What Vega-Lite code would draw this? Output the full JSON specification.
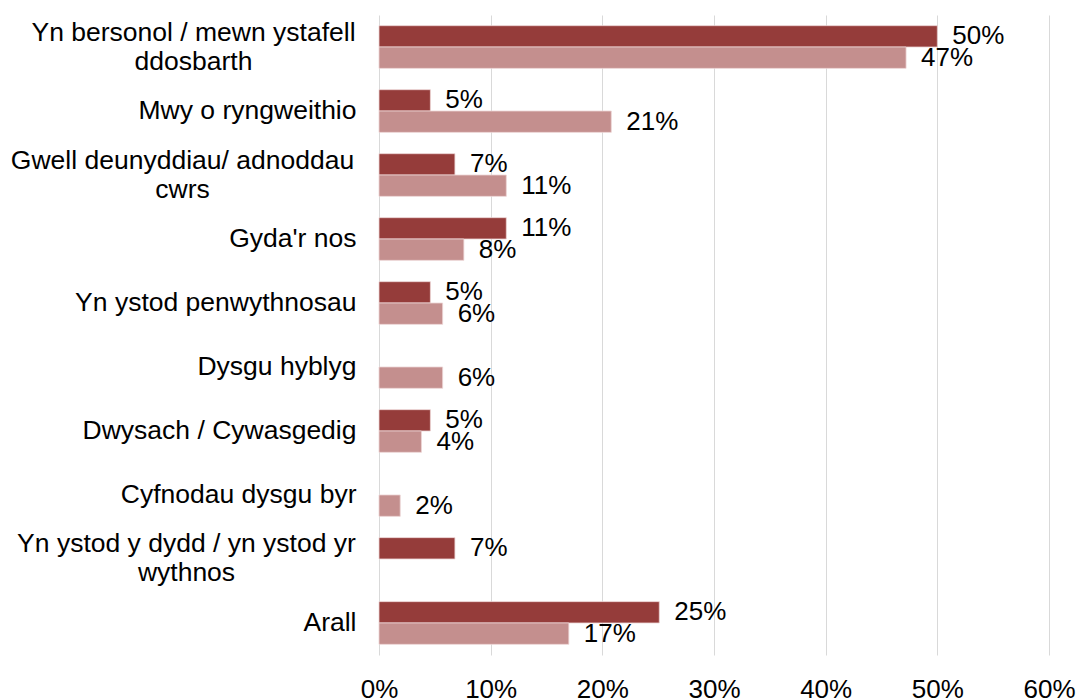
{
  "$schema": "https://vega.github.io/schema/vega-lite/v6.json",
  "autosize": {"type": "none"},
  "padding": {"left": 379, "top": 15, "right": 27, "bottom": 45},
  "width": 670,
  "height": 640,
  "background": "white",
  "config": {
    "view": {"stroke": null},
    "font": "Liberation Sans",
    "axis": {"labelFont": "Liberation Sans", "labelFontSize": 26, "labelColor": "#000000"}
  },
  "data": {
    "values": [
      {"category": "Yn bersonol / mewn ystafell ddosbarth", "series": "Cyfres 1", "value": 0.500},
      {"category": "Yn bersonol / mewn ystafell ddosbarth", "series": "Cyfres 2", "value": 0.472},
      {"category": "Mwy o ryngweithio", "series": "Cyfres 1", "value": 0.046},
      {"category": "Mwy o ryngweithio", "series": "Cyfres 2", "value": 0.208},
      {"category": "Gwell deunyddiau/ adnoddau cwrs", "series": "Cyfres 1", "value": 0.068},
      {"category": "Gwell deunyddiau/ adnoddau cwrs", "series": "Cyfres 2", "value": 0.114},
      {"category": "Gyda'r nos", "series": "Cyfres 1", "value": 0.114},
      {"category": "Gyda'r nos", "series": "Cyfres 2", "value": 0.076},
      {"category": "Yn ystod penwythnosau", "series": "Cyfres 1", "value": 0.046},
      {"category": "Yn ystod penwythnosau", "series": "Cyfres 2", "value": 0.057},
      {"category": "Dysgu hyblyg", "series": "Cyfres 2", "value": 0.057},
      {"category": "Dwysach / Cywasgedig", "series": "Cyfres 1", "value": 0.046},
      {"category": "Dwysach / Cywasgedig", "series": "Cyfres 2", "value": 0.038},
      {"category": "Cyfnodau dysgu byr", "series": "Cyfres 2", "value": 0.019},
      {"category": "Yn ystod y dydd / yn ystod yr wythnos", "series": "Cyfres 1", "value": 0.068},
      {"category": "Arall", "series": "Cyfres 1", "value": 0.251},
      {"category": "Arall", "series": "Cyfres 2", "value": 0.170}
    ]
  },
  "encoding": {
    "y": {
      "field": "category",
      "type": "nominal",
      "sort": null,
      "scale": {"paddingInner": 0.333, "paddingOuter": 0.167},
      "axis": {
        "title": null,
        "domain": false,
        "ticks": false,
        "labelFontSize": 26.5,
        "labelPadding": {
          "condition": [
            {"test": "datum.value == 'Yn bersonol / mewn ystafell ddosbarth'", "value": 186},
            {"test": "datum.value == 'Gwell deunyddiau/ adnoddau cwrs'", "value": 197},
            {"test": "datum.value == 'Yn ystod y dydd / yn ystod yr wythnos'", "value": 193}
          ],
          "value": 23
        },
        "labelAlign": {
          "condition": {"test": "datum.value == 'Yn bersonol / mewn ystafell ddosbarth' || datum.value == 'Gwell deunyddiau/ adnoddau cwrs' || datum.value == 'Yn ystod y dydd / yn ystod yr wythnos'", "value": "center"},
          "value": "right"
        },
        "labelOffset": {
          "condition": {"test": "datum.value == 'Yn bersonol / mewn ystafell ddosbarth' || datum.value == 'Gwell deunyddiau/ adnoddau cwrs' || datum.value == 'Yn ystod y dydd / yn ystod yr wythnos'", "value": -14.5},
          "value": 0
        },
        "labelLineHeight": 29,
        "labelLimit": 400,
        "labelExpr": "datum.value == 'Yn bersonol / mewn ystafell ddosbarth' ? ['Yn bersonol / mewn ystafell', 'ddosbarth'] : datum.value == 'Gwell deunyddiau/ adnoddau cwrs' ? ['Gwell deunyddiau/ adnoddau', 'cwrs'] : datum.value == 'Yn ystod y dydd / yn ystod yr wythnos' ? ['Yn ystod y dydd / yn ystod yr', 'wythnos'] : datum.value"
      }
    },
    "yOffset": {
      "field": "series",
      "type": "nominal",
      "scale": {"domain": ["Cyfres 1", "Cyfres 2"], "paddingInner": 0, "paddingOuter": 0}
    },
    "x": {
      "field": "value",
      "type": "quantitative",
      "scale": {"domain": [0, 0.6], "nice": false},
      "axis": {
        "title": null,
        "format": ".0%",
        "values": [0, 0.1, 0.2, 0.3, 0.4, 0.5, 0.6],
        "domain": false,
        "ticks": false,
        "grid": true,
        "gridColor": "#d9d9d9",
        "gridWidth": 1,
        "labelPadding": 21,
        "labelFlush": false
      }
    }
  },
  "layer": [
    {
      "mark": {"type": "bar", "stroke": "#ecd4d4", "strokeWidth": 0.8},
      "encoding": {
        "color": {
          "field": "series",
          "type": "nominal",
          "scale": {"domain": ["Cyfres 1", "Cyfres 2"], "range": ["#953c3a", "#c48f8e"]},
          "legend": null
        }
      }
    },
    {
      "mark": {"type": "text", "align": "left", "baseline": "middle", "dx": 15, "fontSize": 26, "font": "Liberation Sans", "color": "#000000"},
      "encoding": {
        "text": {"field": "value", "type": "quantitative", "format": ".0%"}
      }
    }
  ]
}
